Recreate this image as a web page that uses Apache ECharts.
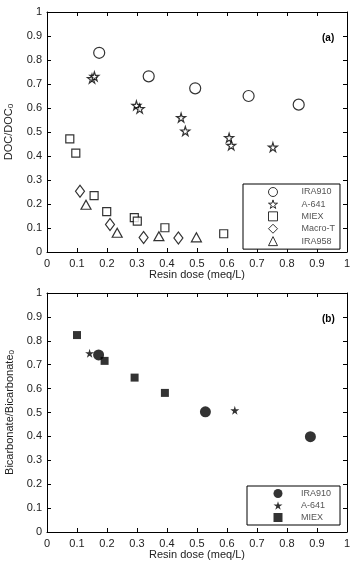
<!DOCTYPE html>
<html>
<head>
<meta charset="utf-8">
<script src="https://cdn.jsdelivr.net/npm/echarts@6/dist/echarts.min.js"></script>
<style>
html, body { margin: 0; padding: 0; background: #fff; }
#chart { width: 354px; height: 561px; }
</style>
</head>
<body>
<div id="chart"></div>
<script>
// panel (a): DOC/DOC0 vs resin dose
var ira910A = [[0.174, 0.83], [0.339, 0.732], [0.494, 0.682], [0.672, 0.65], [0.839, 0.614]];
var a641A = [[0.150, 0.722], [0.158, 0.732], [0.298, 0.611], [0.309, 0.597], [0.447, 0.560],
             [0.461, 0.504], [0.607, 0.476], [0.614, 0.444], [0.753, 0.437]];
var miexA = [[0.076, 0.471], [0.096, 0.412], [0.157, 0.235], [0.199, 0.168], [0.291, 0.143],
             [0.301, 0.129], [0.393, 0.101], [0.589, 0.076]];
var macroTA = [[0.110, 0.253], [0.210, 0.115], [0.322, 0.060], [0.438, 0.058]];
var ira958A = [[0.130, 0.197], [0.234, 0.080], [0.373, 0.066], [0.498, 0.061]];

// panel (b): Bicarbonate/Bicarbonate0 vs resin dose
var ira910B = [[0.172, 0.741], [0.528, 0.503], [0.878, 0.399]];
var a641B = [[0.142, 0.748], [0.626, 0.509]];
var miexB = [[0.100, 0.824], [0.192, 0.716], [0.292, 0.646], [0.393, 0.582]];

var legendA = ['IRA910', 'A-641', 'MIEX', 'Macro-T', 'IRA958'];
var legendB = ['IRA910 ', 'A-641 ', 'MIEX '];

var starPath = 'path://M50,0 L61,35 L98,35 L68,57 L79,91 L50,70 L21,91 L32,57 L2,35 L39,35 Z';
var font = 'Liberation Sans, Arial, sans-serif';

var chart = echarts.init(document.getElementById('chart'));

var lineStyle = { show: true, onZero: false, lineStyle: { color: '#000', width: 1 } };
var tickStyle = { show: true, inside: true, length: 4, lineStyle: { color: '#000' } };
function fmt(v) { return +v.toFixed(1) + ''; }

function mainX(grid, nameGap) {
    return {
        gridIndex: grid, type: 'value', position: 'bottom', min: 0, max: 1, interval: 0.1,
        name: 'Resin dose (meq/L)', nameLocation: 'middle', nameGap: nameGap,
        nameTextStyle: { fontFamily: font, fontSize: 11, color: '#222' },
        axisLine: lineStyle, axisTick: tickStyle,
        axisLabel: { fontFamily: font, fontSize: 11, color: '#222', margin: 6, formatter: fmt },
        splitLine: { show: false }
    };
}
function sideX(grid) {
    return {
        gridIndex: grid, type: 'value', position: 'top', min: 0, max: 1, interval: 0.1,
        axisLine: lineStyle, axisTick: tickStyle,
        axisLabel: { show: false }, splitLine: { show: false }
    };
}
function mainY(grid, name, gap) {
    return {
        gridIndex: grid, type: 'value', position: 'left', min: 0, max: 1, interval: 0.1,
        name: name, nameLocation: 'middle', nameGap: gap,
        nameTextStyle: {
            fontFamily: font, fontSize: 11, color: '#222',
            rich: {
                a: { fontFamily: font, fontSize: 11, color: '#222', padding: [0, 0, 4, 0] },
                s: { fontFamily: font, fontSize: 8, color: '#222' }
            }
        },
        axisLine: lineStyle, axisTick: tickStyle,
        axisLabel: { fontFamily: font, fontSize: 11, color: '#222', margin: 5, formatter: fmt },
        splitLine: { show: false }
    };
}
function sideY(grid) {
    return {
        gridIndex: grid, type: 'value', position: 'right', min: 0, max: 1, interval: 0.1,
        axisLine: lineStyle, axisTick: tickStyle,
        axisLabel: { show: false }, splitLine: { show: false }
    };
}

function hollow(name, data, symbol, size) {
    return {
        name: name, type: 'scatter', xAxisIndex: 0, yAxisIndex: 0,
        data: data, symbol: symbol, symbolSize: size,
        itemStyle: { color: '#fff', borderColor: '#000', borderWidth: 1.2 }
    };
}
function filled(name, data, symbol, size) {
    return {
        name: name, type: 'scatter', xAxisIndex: 2, yAxisIndex: 2,
        data: data, symbol: symbol, symbolSize: size,
        itemStyle: { color: '#000', borderColor: '#000', borderWidth: 0 }
    };
}

chart.setOption({
    animation: false,
    backgroundColor: '#fff',
    title: [
        { text: '(a)', left: 317, top: 28, textStyle: { fontFamily: font, fontSize: 10, fontWeight: 'bold', color: '#000' } },
        { text: '(b)', left: 317, top: 309, textStyle: { fontFamily: font, fontSize: 10, fontWeight: 'bold', color: '#000' } }
    ],
    grid: [
        { left: 47, top: 12, width: 300, height: 240, containLabel: false, outerBoundsMode: 'none' },
        { left: 47, top: 293, width: 300, height: 239, containLabel: false, outerBoundsMode: 'none' }
    ],
    legend: [
        {
            data: legendA, orient: 'vertical', left: 243, top: 184,
            itemWidth: 9, itemHeight: 9, itemGap: 2.4,
            itemStyle: { borderWidth: 1 },
            padding: [3, 5, 3, 25], borderColor: '#000', borderWidth: 1,
            backgroundColor: '#fff',
            textStyle: { fontFamily: font, fontSize: 9, color: '#555', padding: [0, 0, 0, 19] }
        },
        {
            data: legendB, orient: 'vertical', left: 247, top: 486,
            itemWidth: 9, itemHeight: 9, itemGap: 3,
            padding: [3, 9, 3, 26.5], borderColor: '#000', borderWidth: 1,
            backgroundColor: '#fff',
            textStyle: { fontFamily: font, fontSize: 9, color: '#555', padding: [0, 0, 0, 13.5] },
            formatter: function (n) { return n.trim(); }
        }
    ],
    xAxis: [mainX(0, 16), sideX(0), mainX(1, 16), sideX(1)],
    yAxis: [
        mainY(0, '{a|DOC/DOC}{s|0}', 29), sideY(0),
        mainY(1, '{a|Bicarbonate/Bicarbonate}{s|0}', 28), sideY(1)
    ],
    series: [
        hollow('IRA910', ira910A, 'circle', 11),
        hollow('A-641', a641A, starPath, 9),
        hollow('MIEX', miexA, 'rect', 8),
        hollow('Macro-T', macroTA, 'diamond', [9, 12]),
        hollow('IRA958', ira958A, 'triangle', [10, 9]),
        filled('IRA910 ', ira910B, 'circle', 11),
        filled('A-641 ', a641B, starPath, 9),
        filled('MIEX ', miexB, 'rect', 8)
    ]
});
</script>
</body>
</html>
